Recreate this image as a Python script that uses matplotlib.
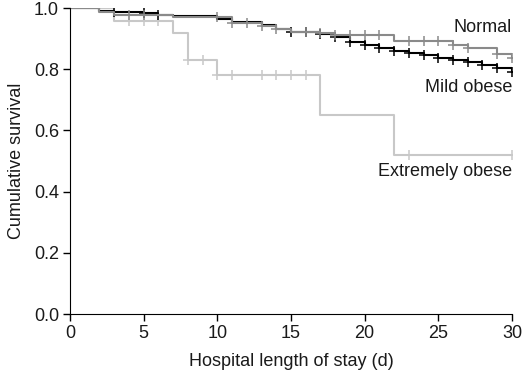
import numpy as np
import matplotlib
matplotlib.use("Agg")
import matplotlib.pyplot as plt

plt.rcParams['font.family'] = ['Liberation Sans', 'DejaVu Sans']

# step curves (time in days, survival after the step)
normal_t = [0, 2, 3, 7, 11, 13, 14, 15, 17, 18, 22, 26, 27, 29, 30]
normal_s = [1.0, 0.987, 0.976, 0.972, 0.952, 0.942, 0.930, 0.922, 0.917, 0.911, 0.893, 0.880, 0.870, 0.849, 0.837]
normal_cens = [4, 5, 10, 11, 12, 13, 14, 16, 17, 18, 19, 20, 21, 23, 24, 25, 26, 27, 29, 30]

mild_t = [0, 2, 3, 5, 6, 7, 10, 11, 13, 14, 15, 17, 18, 19, 20, 21, 22, 23, 24, 25, 26, 27, 28, 29, 30]
mild_s = [1.0, 0.989, 0.987, 0.983, 0.977, 0.973, 0.965, 0.955, 0.944, 0.932, 0.922, 0.915, 0.904, 0.888, 0.878, 0.868, 0.860, 0.852, 0.845, 0.838, 0.830, 0.822, 0.815, 0.805, 0.790]
mild_cens = [3, 5, 6, 15, 16, 17, 18, 19, 20, 21, 22, 23, 24, 25, 26, 27, 28, 29, 30]

ext_t = [0, 3, 7, 8, 10, 17, 22, 30]
ext_s = [1.0, 0.959, 0.917, 0.83, 0.78, 0.65, 0.52, 0.52]
ext_cens = [4, 5, 6, 8, 9, 10, 11, 13, 14, 15, 16, 23, 30]

curves = [
    ("Normal", normal_t, normal_s, normal_cens, "#8a8a8a"),
    ("Mild obese", mild_t, mild_s, mild_cens, "black"),
    ("Extremely obese", ext_t, ext_s, ext_cens, "#c8c8c8"),
]

fig = plt.figure(figsize=(5.24, 3.74), dpi=100)
ax = fig.add_axes([0.1336, 0.160, 0.8434, 0.8186])

for name, t, s, cens, col in curves[::-1]:
    ax.step(t, s, where='post', color=col, lw=1.5)
    t_arr = np.array(t)
    idx = np.searchsorted(t_arr, cens, side='right') - 1
    ax.plot(cens, np.array(s)[idx], ls='none', marker='+', ms=7.5, mew=1.1, color=col)

fs = 13
tc = "#1a1a1a"
ax.set_xlim(0, 30)
ax.set_ylim(0, 1.0)
ax.set_xticks(range(0, 31, 5))
ax.set_yticks(np.arange(0, 1.01, 0.2))
ax.set_yticklabels(["0.0", "0.2", "0.4", "0.6", "0.8", "1.0"])
ax.spines['top'].set_visible(False)
ax.spines['right'].set_visible(False)
ax.tick_params(direction='out', length=5, labelsize=fs, width=1, labelcolor=tc, pad=3)
ax.set_xlabel("Hospital length of stay (d)", fontsize=fs, color=tc, labelpad=8)
ax.set_ylabel("Cumulative survival", fontsize=fs, color=tc, labelpad=6)

ax.text(30, 0.935, "Normal", ha='right', va='center', fontsize=fs, color=tc)
ax.text(30, 0.74, "Mild obese", ha='right', va='center', fontsize=fs, color=tc)
ax.text(30, 0.465, "Extremely obese", ha='right', va='center', fontsize=fs, color=tc)

fig.savefig("out.png", dpi=100)
